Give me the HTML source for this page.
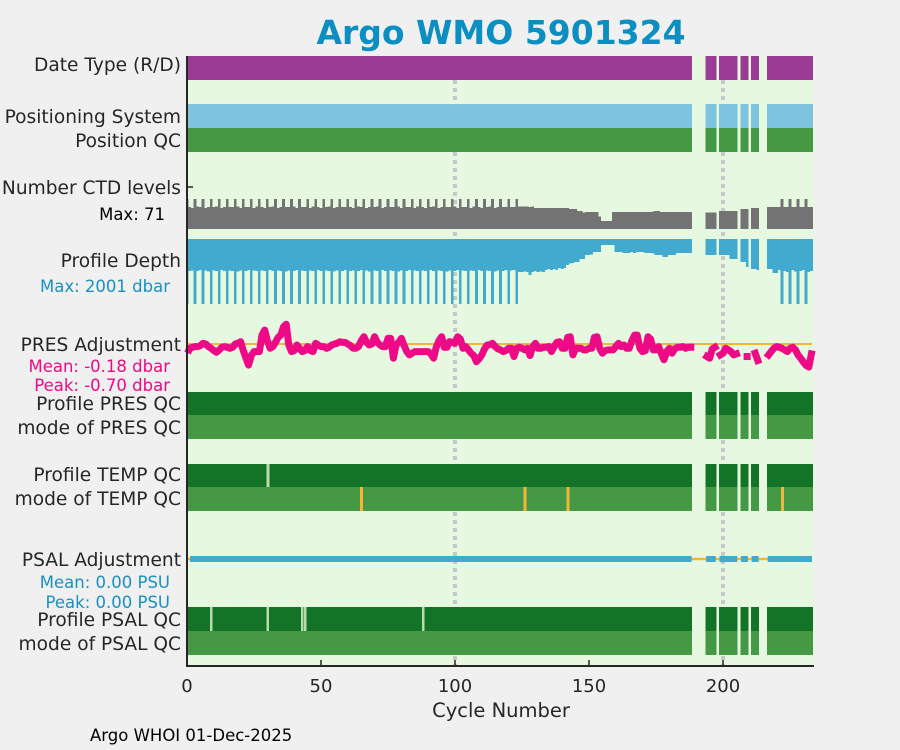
<!DOCTYPE html>
<html><head><meta charset="utf-8"><style>
html,body{margin:0;padding:0;background:#f0f0f0;}
svg{display:block;font-family:"DejaVu Sans","Liberation Sans",sans-serif;}
.lab{font-size:18.6px;fill:#262626;text-anchor:end;}
.sm{font-size:16.5px;text-anchor:end;}
</style></head><body>
<svg id="chart" width="900" height="750" xmlns="http://www.w3.org/2000/svg">
<rect x="0" y="0" width="900" height="750" fill="#f0f0f0"/>
<text x="501" y="44" text-anchor="middle" font-size="33" font-weight="bold" fill="#0b8ec2">Argo WMO 5901324</text>
<rect x="187" y="56" width="627" height="611" fill="#e6f8e0"/>
<g id="grid"></g>
<g id="marks" shape-rendering="crispEdges"></g>
<g id="lines"></g>
<line x1="187" y1="56" x2="187" y2="667" stroke="#262626" stroke-width="2"/>
<line x1="186" y1="666" x2="814" y2="666" stroke="#262626" stroke-width="2"/>
<line x1="187" y1="187" x2="193" y2="187" stroke="#262626" stroke-width="1.5"/>
<g id="xticks"></g>
<text x="501" y="717" text-anchor="middle" font-size="19.5" fill="#262626">Cycle Number</text>
<text x="90" y="741" font-size="16.5" fill="#000">Argo WHOI 01-Dec-2025</text>

<text class="lab" x="181" y="71">Date Type (R/D)</text>
<text class="lab" x="181" y="123">Positioning System</text>
<text class="lab" x="181" y="147">Position QC</text>
<text class="lab" x="181" y="194">Number CTD levels</text>
<text class="sm" x="165" y="220" fill="#000">Max: 71</text>
<text class="lab" x="181" y="267">Profile Depth</text>
<text class="sm" x="170" y="292" fill="#1a8fc4">Max: 2001 dbar</text>
<text class="lab" x="181" y="351">PRES Adjustment</text>
<text class="sm" x="170" y="372" fill="#ee0a86">Mean: -0.18 dbar</text>
<text class="sm" x="170" y="391" fill="#ee0a86">Peak: -0.70 dbar</text>
<text class="lab" x="181" y="410">Profile PRES QC</text>
<text class="lab" x="181" y="434">mode of PRES QC</text>
<text class="lab" x="181" y="481">Profile TEMP QC</text>
<text class="lab" x="181" y="505">mode of TEMP QC</text>
<text class="lab" x="181" y="566">PSAL Adjustment</text>
<text class="sm" x="170" y="588" fill="#1a8fc4">Mean: 0.00 PSU</text>
<text class="sm" x="170" y="608" fill="#1a8fc4">Peak: 0.00 PSU</text>
<text class="lab" x="181" y="626">Profile PSAL QC</text>
<text class="lab" x="181" y="650">mode of PSAL QC</text>
</svg>
<script>
const xTicks=[0,50,100,150,200];
const gridCycles=[100,200];
const N=null;
const depthR0=[2001,985,970,2001,990,960,2001,975,1000,2001,970,985,2001,960,990,2001,975,980,2001,995,970,2001,985,960,2001,975,990,2001,970,985];
const depthR1=[2001,960,990,2001,975,980,2001,995,970,2001,985,960,2001,975,990,2001,970,985,2001,960,990,2001,975,980,2001,995,970,2001,985,960];
const depthR2=[2001,985,970,2001,990,960,2001,975,1000,2001,970,985,2001,960,990,2001,975,980,2001,995,970,2001,985,960,2001,975,990,2001,970,985];
const depthR3=[2001,960,990,2001,975,980,2001,995,970,2001,985,960,2001,975,990,2001,970,985,2001,960,990,2001,975,980,2001,995,970,2001,985,960];
const depthR4=[2001,970,960,2001,1016,1016,1000,1016,1108,1016,990,1016,1000,1016,954,930,954,920,954,893,930,
893,800,760,739,708,708,615,615,492,492,470,400,400,400,185,185,185,185,185,400,
400,400,431,431,431,400,431,400,400,400,431,431,431,450,492,492,492,554,554,492,492,492,431,431,431,431,431,431,
N,N,N,N,N,492,492,492,492,N,492,492,492,492,615,615,615,N,708,708,862,N,923,923,954,N,N,N,
923,923,1046,1046,954,2001,985,1016,2001,954,1000,2001,985,954,2001,1016,985];
const profileDepth=[].concat(depthR0,depthR1,depthR2,depthR3,depthR4);

const ctdR0=[71,52,50,71,53,52,71,50,52,71,52,53,71,50,52,71,52,52,71,53,50,71,52,52,71,50,53,71,52,50];
const ctdR1=[71,52,53,71,50,52,71,52,52,71,53,50,71,52,52,71,50,53,71,52,50,71,52,53,71,50,52,71,52,52];
const ctdR2=[71,52,50,71,53,52,71,50,52,71,52,53,71,50,52,71,52,52,71,53,50,71,52,52,71,50,53,71,52,50];
const ctdR3=[71,52,53,71,50,52,71,52,52,71,53,50,71,52,52,71,50,53,71,52,50,71,52,53,71,50,52,71,52,52];
const ctdR4=[71,52,52,71,53,53,53,53,52,53,50,50,50,50,50,50,50,50,50,50,50,
50,50,47,47,47,43,43,39,40,40,40,40,40,29,19,19,19,19,40,40,
40,40,40,40,40,40,40,40,40,40,40,40,40,41,43,43,40,40,40,40,40,40,40,40,40,40,40,40,
N,N,N,N,N,39,39,39,39,N,43,43,43,43,43,43,43,N,47,47,47,N,50,50,50,N,N,N,
52,52,52,52,52,71,52,52,71,52,52,71,52,52,71,52,52];
const ctdLevels=[].concat(ctdR0,ctdR1,ctdR2,ctdR3,ctdR4);

const presA=[-0.18,-0.13,-0.10,-0.08,-0.08,-0.05,0.02,0.0,-0.08,-0.13,-0.20,-0.25,-0.18,-0.10,-0.08,-0.10,-0.13,-0.10,0.0,0.02,0.07,-0.20,-0.43,-0.64,-0.35,-0.23,-0.23,-0.23,0.27,0.42,
0.10,-0.13,-0.08,0.05,0.20,0.27,0.52,0.60,-0.03,-0.23,-0.20,-0.03,-0.13,-0.23,-0.20,-0.08,-0.20,-0.23,0.02,-0.03,-0.08,-0.08,-0.13,-0.10,-0.03,0.0,0.02,0.07,0.05,0.05,
0.0,-0.05,-0.13,-0.13,-0.08,0.10,0.22,0.05,-0.03,0.0,0.22,0.05,-0.03,-0.08,-0.08,0.17,0.17,-0.43,-0.03,0.05,0.17,-0.05,-0.23,-0.33,-0.28,-0.23,-0.23,-0.23,-0.23,-0.23,
-0.23,-0.30,-0.43,-0.10,0.10,0.22,-0.10,-0.10,0.07,0.05,0.02,0.22,0.15,-0.13,-0.08,-0.18,-0.28,-0.35,-0.54,-0.45,-0.33,-0.15,-0.03,-0.02,0.02,-0.08,-0.15];
const presB=[-0.18,-0.23,-0.20,-0.13,-0.13,-0.38,-0.13,-0.10,-0.13,-0.18,-0.13,-0.35,-0.08,0.02,-0.13,-0.13,-0.10,-0.10,-0.08,-0.23,-0.08,0.05,0.07,-0.13,-0.13,0.20,0.22,-0.33,-0.13,-0.13,-0.13,-0.18,-0.18,-0.13,-0.13,0.20,0.22,-0.13,-0.28,-0.20,-0.18,-0.18,-0.18,-0.08,0.02,-0.08,-0.03,-0.13,-0.13,0.10,0.27,0.27,-0.13,-0.23,-0.20,0.22,0.15,-0.18,-0.18,-0.08,-0.30,-0.48,-0.23,-0.13,-0.28,-0.15,-0.10,-0.10,-0.08,-0.13,-0.10,-0.10];
const presC=[N,N,N,N,N,-0.38,-0.43,-0.15,-0.10,N,-0.33,-0.28,-0.13,-0.18,-0.23,-0.33,-0.30,N,N,N,-0.38,N,N,-0.28,-0.50,N,N,N,
-0.33,-0.23,-0.13,-0.08,-0.10,-0.13,-0.18,-0.23,-0.13,-0.10,-0.18,-0.33,-0.43,-0.55,-0.65,-0.70,-0.30];
const presAdjustment=[].concat(presA,presB,presC);

const tempProfileLight=[30];
const tempModeFlag=[65,126,142,222];
const psalProfileLight=[9,30,43,44,88];

const NS='http://www.w3.org/2000/svg';
const X0=187,X1=814,PXC=2.68;
function xs(c){return X0+c*PXC;}
function mk(tag,attrs,parent){const e=document.createElementNS(NS,tag);for(const k in attrs)e.setAttribute(k,attrs[k]);parent.appendChild(e);return e;}
const grid=document.getElementById('grid'),marks=document.getElementById('marks'),lines=document.getElementById('lines'),xt=document.getElementById('xticks');

gridCycles.forEach(c=>{
  const l=mk('line',{x1:xs(c),y1:56,x2:xs(c),y2:666,stroke:'#c8c8c8','stroke-width':4,'stroke-dasharray':'4 4'},grid);
  
  
});
xTicks.forEach(t=>{
  const l=mk('line',{x1:xs(t),y1:666,x2:xs(t),y2:660,stroke:'#262626','stroke-width':1.5},xt);
  
  
  const tx=mk('text',{x:xs(t),y:692,'text-anchor':'middle','font-size':18,fill:'#262626'},xt);
  tx.textContent=String(t);
  
  
});
function segRect(c0,c1,y,h,fill,name){
  const a=Math.max(X0,xs(c0-0.5)),b=Math.min(X1,xs(c1+0.5));
  const r=mk('rect',{x:a,y:y,width:b-a,height:h,fill:fill},marks);
  
  
}
// contiguous runs of present cycles
const runs=[];let s=null;
for(let c=0;c<=profileDepth.length;c++){
  const ok=c<profileDepth.length&&profileDepth[c]!==null;
  if(ok&&s===null)s=c;
  if(!ok&&s!==null){runs.push([s,c-1]);s=null;}
}
runs.forEach(([a,b])=>{
  segRect(a,b,56,24,'#9b3b96','date-type-bar');
  segRect(a,b,104,24,'#7fc4de','positioning-system-bar');
  segRect(a,b,128,24,'#459944','position-qc-bar');
  segRect(a,b,392,23,'#137327','profile-pres-qc-bar');
  segRect(a,b,415,24,'#459944','mode-pres-qc-bar');
  segRect(a,b,464,23,'#137327','profile-temp-qc-bar');
  segRect(a,b,487,24,'#459944','mode-temp-qc-bar');
  segRect(a,b,607,24,'#137327','profile-psal-qc-bar');
  segRect(a,b,631,24,'#459944','mode-psal-qc-bar');
});
for(let c=0;c<profileDepth.length;c++){
  if(profileDepth[c]===null) continue;
  const dh=profileDepth[c]*65/2001;
  segRect(c,c,239,dh,'#42a9cf','profile-depth-bar');
  const v=ctdLevels[c];
  if(v!==null){const h=v*30/71;segRect(c,c,229-h,h,'#737373','ctd-levels-bar');}
}
tempProfileLight.forEach(c=>{const r=mk('rect',{x:xs(c)-1,y:464,width:3,height:23,fill:'#b9dcae'},marks);});
tempModeFlag.forEach(c=>{const r=mk('rect',{x:xs(c)-1,y:487,width:3,height:24,fill:'#f5b43a'},marks);});
psalProfileLight.forEach(c=>{const r=mk('rect',{x:xs(c)-1,y:607,width:2.5,height:24,fill:'#b9dcae'},marks);});

// PRES adjustment
const zp=mk('line',{x1:X0,y1:344,x2:812,y2:344,stroke:'#f5b43a','stroke-width':2},lines);


function py(v){return 344-v*33;}
let run=[];
function flush(){
  if(run.length===1){const p=run[0];const r=mk('rect',{x:p[0]-3.5,y:p[1]-3.5,width:7,height:7,fill:'#ee0a86'},lines);}
  else if(run.length>1){const pl=mk('polyline',{points:run.map(p=>p[0].toFixed(1)+','+p[1].toFixed(1)).join(' '),fill:'none',stroke:'#ee0a86','stroke-width':7,'stroke-linejoin':'round','stroke-linecap':'square'},lines);}
  run=[];
}
for(let c=0;c<presAdjustment.length;c++){
  const v=presAdjustment[c];
  if(v===null){flush();continue;}
  run.push([Math.max(X0+2,xs(c)),py(v)]);
}
flush();

// PSAL adjustment
const zs=mk('line',{x1:X0,y1:559,x2:812,y2:559,stroke:'#f5b43a','stroke-width':2.5},lines);


runs.forEach(([a0,b0])=>{
  const a=Math.max(X0+3,xs(a0-0.3)),b=Math.min(812,xs(b0+0.3));
  const r=mk('rect',{x:a,y:556,width:b-a,height:6,fill:'#42a9cf'},lines);
  
  
});
</script>
</body></html>
